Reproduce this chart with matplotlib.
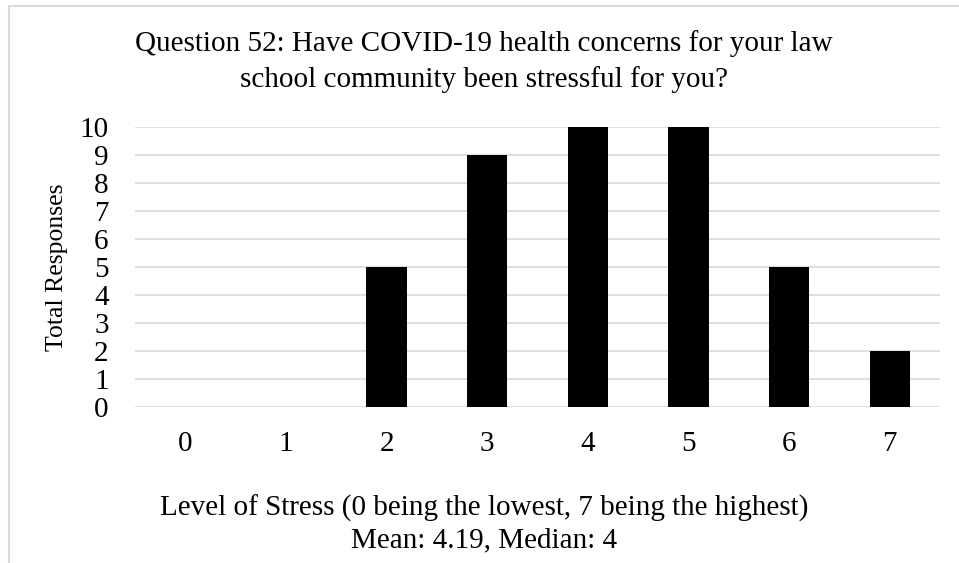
import numpy as np
import matplotlib.pyplot as plt
from matplotlib.patches import Rectangle

# ............................................................ data
levels = ['0', '1', '2', '3', '4', '5', '6', '7']
responses = [0, 0, 5, 9, 10, 10, 5, 2]
yticks = list(range(0, 11))

title = ('Question 52: Have COVID-19 health concerns for your law\n'
         'school community been stressful for you?')
xlabel = ('Level of Stress (0 being the lowest, 7 being the highest)\n'
          'Mean: 4.19, Median: 4')

plt.rcParams['font.family'] = ['Liberation Serif', 'DejaVu Serif']

W, H = 959, 563
fig = plt.figure(figsize=(W / 100, H / 100), dpi=100)
ax = fig.add_axes([135 / W, 1 - 407 / H, 805 / W, 280 / H])

x = np.arange(len(levels))
ax.bar(x, responses, width=0.4, color='black', zorder=3)
ax.set_xlim(-0.5, len(levels) - 0.5)
ax.set_ylim(0, 10)
ax.set_yticks(yticks)
ax.set_xticks(x)
ax.set_xticklabels(levels)
ax.tick_params(axis='both', length=0, labelsize=21)
ax.tick_params(axis='y', pad=19)
ax.tick_params(axis='x', pad=17)
ax.yaxis.grid(True, color='#d9d9d9', linewidth=1.2, zorder=0)
for s in ax.spines.values():
  s.set_visible(False)

ax.set_ylabel('Total Responses', fontsize=18.5, labelpad=8)

fig.text(0.505, 1 - 62 / H, title, ha='center', va='center',
         fontsize=21, linespacing=1.43)
fig.text(0.505, 1 - 524 / H, xlabel, ha='center', va='center',
         fontsize=21, linespacing=1.28)

# light grey frame of the chart box
fig.patches.append(Rectangle((9 / W, -0.1), 1.2, 1 - 6 / H + 0.1,
                             transform=fig.transFigure, fill=False,
                             edgecolor='#d9d9d9', linewidth=1.5))

fig.savefig('out.png', dpi=100)
